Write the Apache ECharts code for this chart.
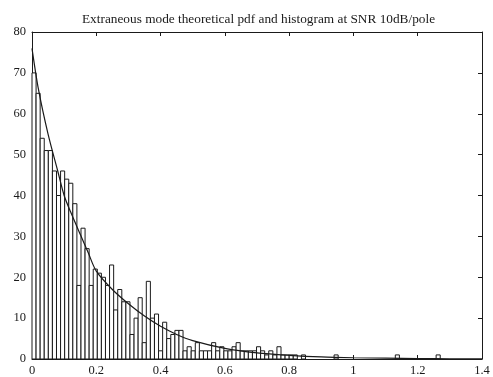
<!DOCTYPE html>
<html>
<head>
<meta charset="utf-8">
<script src="https://cdn.jsdelivr.net/npm/echarts@6/dist/echarts.min.js"></script>
<style>
  html, body { margin: 0; background: #fff; }
  #chart { width: 493px; height: 377px; }
</style>
</head>
<body>
<div id="chart"></div>
<script>
// --- data ---
const titleText = 'Extraneous mode theoretical pdf and histogram at SNR 10dB/pole';

// histogram: 100 bins starting at 0
const binStart = 0;
const binWidth = 0.0127;
const counts = [
  70, 65, 54, 51, 51, 46, 40, 46, 44, 43,
  38, 18, 32, 27, 18, 22, 21, 20, 18, 23,
  12, 17, 14, 14, 6, 10, 15, 4, 19, 10,
  11, 2, 9, 5, 6, 7, 7, 2, 3, 2,
  4, 2, 2, 2, 4, 2, 3, 2, 2, 3,
  4, 2, 2, 2, 2, 3, 2, 1, 2, 1,
  3, 1, 1, 1, 1, 0, 1, 0, 0, 0,
  0, 0, 0, 0, 1, 0, 0, 0, 0, 0,
  0, 0, 0, 0, 0, 0, 0, 0, 0, 1,
  0, 0, 0, 0, 0, 0, 0, 0, 0, 1
];

// theoretical pdf
const pdfX = [0, 0.02, 0.05, 0.08, 0.1, 0.12, 0.15, 0.175, 0.2, 0.25, 0.3, 0.35, 0.4, 0.45, 0.5, 0.6, 0.7, 0.8, 0.9, 1.0, 1.1, 1.2, 1.3, 1.4];
const pdfY = [76, 66, 55, 46, 40, 36, 30.5, 26, 21.5, 17, 13.5, 10.5, 8, 6, 4.5, 2.6, 1.5, 0.9, 0.5, 0.3, 0.2, 0.1, 0.05, 0.03];

// axes
const xMin = 0, xMax = 1.4, xStep = 0.2;
const yMin = 0, yMax = 80, yStep = 10;

// --- chart ---
const ink = '#1a1a1a';
const serif = '"Liberation Serif", "DejaVu Serif", serif';

const bars = counts
  .map((c, i) => [binStart + i * binWidth, binStart + (i + 1) * binWidth, c])
  .filter(d => d[2] > 0);

const chart = echarts.init(document.getElementById('chart'));

const frameAxis = {
  axisLine: { show: true, onZero: false, lineStyle: { color: ink, width: 1 } },
  axisTick: { show: true, inside: true, length: 4, lineStyle: { color: ink } },
  splitLine: { show: false }
};

chart.setOption({
  animation: false,
  title: {
    text: titleText,
    left: 77, top: 8,
    textStyle: { fontFamily: serif, fontSize: 13.3, fontWeight: 'normal', color: ink }
  },
  grid: { left: 32, right: 11, top: 32, bottom: 15 },
  xAxis: [
    { type: 'value', min: xMin, max: xMax, interval: xStep, position: 'bottom', ...frameAxis,
      axisLabel: { color: ink, fontFamily: serif, fontSize: 12.5, margin: 5 } },
    { type: 'value', min: xMin, max: xMax, interval: xStep, position: 'top', ...frameAxis,
      axisLabel: { show: false } }
  ],
  yAxis: [
    { type: 'value', min: yMin, max: yMax, interval: yStep, position: 'left', ...frameAxis,
      axisLabel: { color: ink, fontFamily: serif, fontSize: 12.5, margin: 6 } },
    { type: 'value', min: yMin, max: yMax, interval: yStep, position: 'right', ...frameAxis,
      axisLabel: { show: false } }
  ],
  series: [
    {
      type: 'custom',
      xAxisIndex: 0, yAxisIndex: 0,
      data: bars,
      encode: { x: [0, 1], y: 2 },
      renderItem: function (params, api) {
        const p0 = api.coord([api.value(0), api.value(2)]);
        const p1 = api.coord([api.value(1), 0]);
        return {
          type: 'rect',
          shape: { x: p0[0], y: p0[1], width: p1[0] - p0[0], height: p1[1] - p0[1] },
          style: { fill: '#fff', stroke: ink, lineWidth: 1 }
        };
      }
    },
    {
      type: 'line',
      xAxisIndex: 0, yAxisIndex: 0,
      data: pdfX.map((x, i) => [x, pdfY[i]]),
      smooth: 0.3,
      showSymbol: false,
      lineStyle: { color: ink, width: 1.2 }
    }
  ]
});
</script>
</body>
</html>
